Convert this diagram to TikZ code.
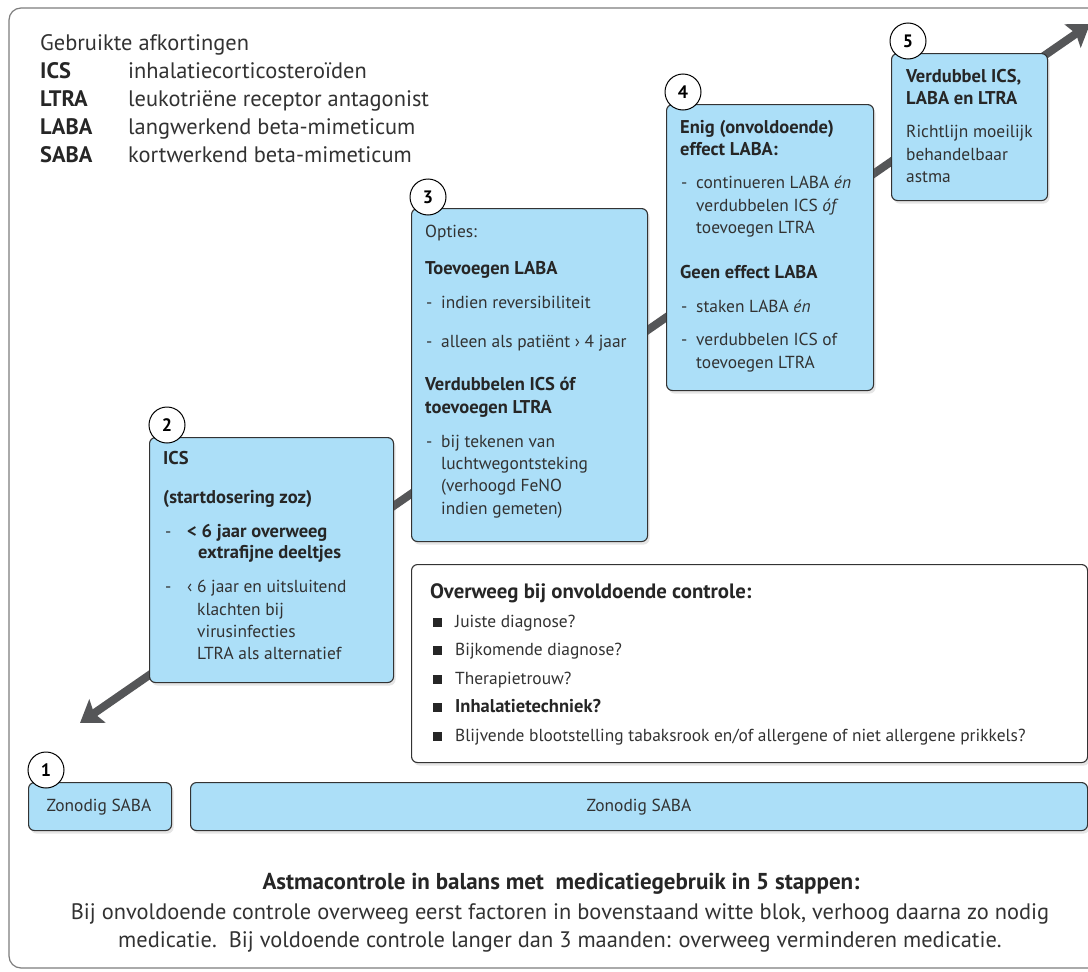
\documentclass[tikz,border=0pt]{standalone}
\usepackage{fontspec}
\setmainfont{PT Sans}
\usetikzlibrary{arrows.meta,shadows}
\definecolor{boxblue}{RGB}{172,223,248}
\definecolor{arrowgray}{RGB}{85,86,88}
\definecolor{framegray}{RGB}{125,125,125}
\definecolor{txtgray}{RGB}{50,50,50}
\newcommand\boxfont{\fontsize{17.4}{20}\selectfont}
\newcommand\boxbold{\fontsize{18.5}{21}\selectfont\bfseries}
\newcommand\bigfont{\fontsize{22.4}{26}\selectfont}
\begin{document}
\begin{tikzpicture}[x=1pt,y=-1pt,
  stepbox/.style={draw=black!80, line width=1.1pt, fill=boxblue, rounded corners=6pt,
    inner sep=0pt, anchor=north west,
    drop shadow={shadow xshift=2pt, shadow yshift=-3pt, opacity=0.2}},
  whitebox/.style={stepbox, fill=white},
  num/.style={circle, draw=black, line width=1pt, fill=white, minimum size=36pt,
    inner sep=0pt, font=\fontsize{18}{18}\selectfont\bfseries},
  ln/.style={anchor=west, inner sep=0pt, text height=0.7em, text depth=0.2em,
    font=\boxfont, text=txtgray, yshift=-3pt},
  lnb/.style={ln, font=\boxbold, text=black!85},
  abbr/.style={anchor=base west, inner sep=0pt, font=\bigfont, text=txtgray},
  abbrb/.style={abbr, font=\bigfont\bfseries, text=black!85},
  bul/.style={fill=black!85, minimum size=9pt, inner sep=0pt},
  bigarrow/.style={line width=8pt, draw=arrowgray,
    {Stealth[length=21pt,width=28pt,inset=4pt]}-{Stealth[length=21pt,width=28pt,inset=4pt]}}
]
\clip (0,0) rectangle (1088,972);
\fill[white] (0,0) rectangle (1088,972);
% outer frame
\draw[framegray, line width=1.2pt, rounded corners=12pt] (9,8) rectangle (1130,968);

% abbreviations
\node[abbr] (ttl) at (40,50) {Gebruikte afkortingen};
\node[abbrb] (k1) at (40,78) {ICS};
\node[abbr] (v1) at (128,78) {inhalatiecorticosteroïden};
\node[abbrb] (k2) at (40,106) {LTRA};
\node[abbr] (v2) at (128,106) {leukotriëne receptor antagonist};
\node[abbrb] (k3) at (40,134) {LABA};
\node[abbr] (v3) at (128,134) {langwerkend beta-mimeticum};
\node[abbrb] (k4) at (40,162) {SABA};
\node[abbr] (v4) at (128,162) {kortwerkend beta-mimeticum};

% big arrow
\coordinate (aBL) at (80,723);
\coordinate (aTR) at (1090,24);
\draw[bigarrow] (aBL) -- (aTR);

% boxes
\node[stepbox, minimum width=143pt, minimum height=48pt] (s1) at (28,782) {};
\node[stepbox, minimum width=897pt, minimum height=48pt] (s0) at (190,782) {};
\node[stepbox, minimum width=244pt, minimum height=245pt] (s2) at (149,437) {};
\node[stepbox, minimum width=236pt, minimum height=333pt] (s3) at (411,208) {};
\node[stepbox, minimum width=207pt, minimum height=286pt] (s4) at (666,104) {};
\node[stepbox, minimum width=156pt, minimum height=147pt] (s5) at (891,53) {};
\node[whitebox, minimum width=676pt, minimum height=198pt] (wb) at (411,564) {};

% number circles
\node[num] (c1) at (46,770) {1};
\node[num] (c2) at (167,425) {2};
\node[num] (c3) at (428,197) {3};
\node[num] (c4) at (683,92) {4};
\node[num] (c5) at (908,41) {5};

% step 1 and base
\node[ln, anchor=center] (t1) at (99,806) {Zonodig SABA};
\node[ln, anchor=center] (t0) at (639,806) {Zonodig SABA};

% step 2
\node[lnb] (b2a) at (163,459) {ICS};
\node[lnb] (b2b) at (163,498) {(startdosering zoz)};
\node[ln] (b2d1) at (165,532) {-};
\node[lnb] (b2c) at (187,532) {< 6 jaar overweeg};
\node[lnb] (b2e) at (198,553) {extrafijne deeltjes};
\node[ln] (b2d2) at (165,587) {-};
\node[ln] (b2f) at (187,587) {‹ 6 jaar en uitsluitend};
\node[ln] (b2g) at (197,610) {klachten bij};
\node[ln] (b2h) at (197,632) {virusinfecties};
\node[ln] (b2i) at (197,654) {LTRA als alternatief};

% step 3
\node[ln] (b3a) at (425,232) {Opties:};
\node[lnb] (b3b) at (425,269) {Toevoegen LABA};
\node[ln] (b3d1) at (426,303) {-};
\node[ln] (b3c) at (441,303) {indien reversibiliteit};
\node[ln] (b3d2) at (426,342) {-};
\node[ln] (b3e) at (441,342) {alleen als patiënt › 4 jaar};
\node[lnb] (b3f) at (425,385) {Verdubbelen ICS óf};
\node[lnb] (b3g) at (425,408) {toevoegen LTRA};
\node[ln] (b3d3) at (426,442) {-};
\node[ln] (b3h) at (441,442) {bij tekenen van};
\node[ln] (b3i) at (441,464) {luchtwegontsteking};
\node[ln] (b3j) at (441,486) {(verhoogd FeNO};
\node[ln] (b3k) at (441,509) {indien gemeten)};

% step 4
\node[lnb] (b4a) at (680,128) {Enig (onvoldoende)};
\node[lnb] (b4b) at (680,150) {effect LABA:};
\node[ln] (b4d1) at (681,183) {-};
\node[ln] (b4c) at (696,183) {continueren LABA \emph{én}};
\node[ln] (b4e) at (696,206) {verdubbelen ICS \emph{óf}};
\node[ln] (b4f) at (696,228) {toevoegen LTRA};
\node[lnb] (b4g) at (680,273) {Geen effect LABA};
\node[ln] (b4d2) at (681,307) {-};
\node[ln] (b4h) at (696,307) {staken LABA \emph{én}};
\node[ln] (b4d3) at (681,340) {-};
\node[ln] (b4i) at (696,340) {verdubbelen ICS of};
\node[ln] (b4j) at (696,363) {toevoegen LTRA};

% step 5
\node[lnb] (b5a) at (906,77) {Verdubbel ICS,};
\node[lnb] (b5b) at (906,99) {LABA en LTRA};
\node[ln] (b5c) at (906,132) {Richtlijn moeilijk};
\node[ln] (b5d) at (906,155) {behandelbaar};
\node[ln] (b5e) at (906,177) {astma};

% white box
\node[lnb, font=\fontsize{20.8}{24}\selectfont\bfseries] (w0) at (430,593) {Overweeg bij onvoldoende controle:};
\node[bul] (q1) at (437,622) {};
\node[ln] (w1) at (455,622) {Juiste diagnose?};
\node[bul] (q2) at (437,650) {};
\node[ln] (w2) at (455,650) {Bijkomende diagnose?};
\node[bul] (q3) at (437,679) {};
\node[ln] (w3) at (455,679) {Therapietrouw?};
\node[bul] (q4) at (437,707) {};
\node[lnb] (w4) at (455,707) {Inhalatietechniek?};
\node[bul] (q5) at (437,736) {};
\node[ln] (w5) at (455,736) {Blijvende blootstelling tabaksrook en/of allergene of niet allergene prikkels?};

% bottom text
\node[anchor=base, inner sep=0pt, font=\fontsize{23}{26}\selectfont\bfseries, text=black!85] (f1) at (561,889) {Astmacontrole in balans met\ \ medicatiegebruik in 5 stappen:};
\node[anchor=base, inner sep=0pt, font=\bigfont, text=txtgray] (f2) at (560,919) {Bij onvoldoende controle overweeg eerst factoren in bovenstaand witte blok, verhoog daarna zo nodig};
\node[anchor=base, inner sep=0pt, font=\bigfont, text=txtgray] (f3) at (560,947) {medicatie.\ \ Bij voldoende controle langer dan 3 maanden: overweeg verminderen medicatie.};
\end{tikzpicture}
\end{document}
